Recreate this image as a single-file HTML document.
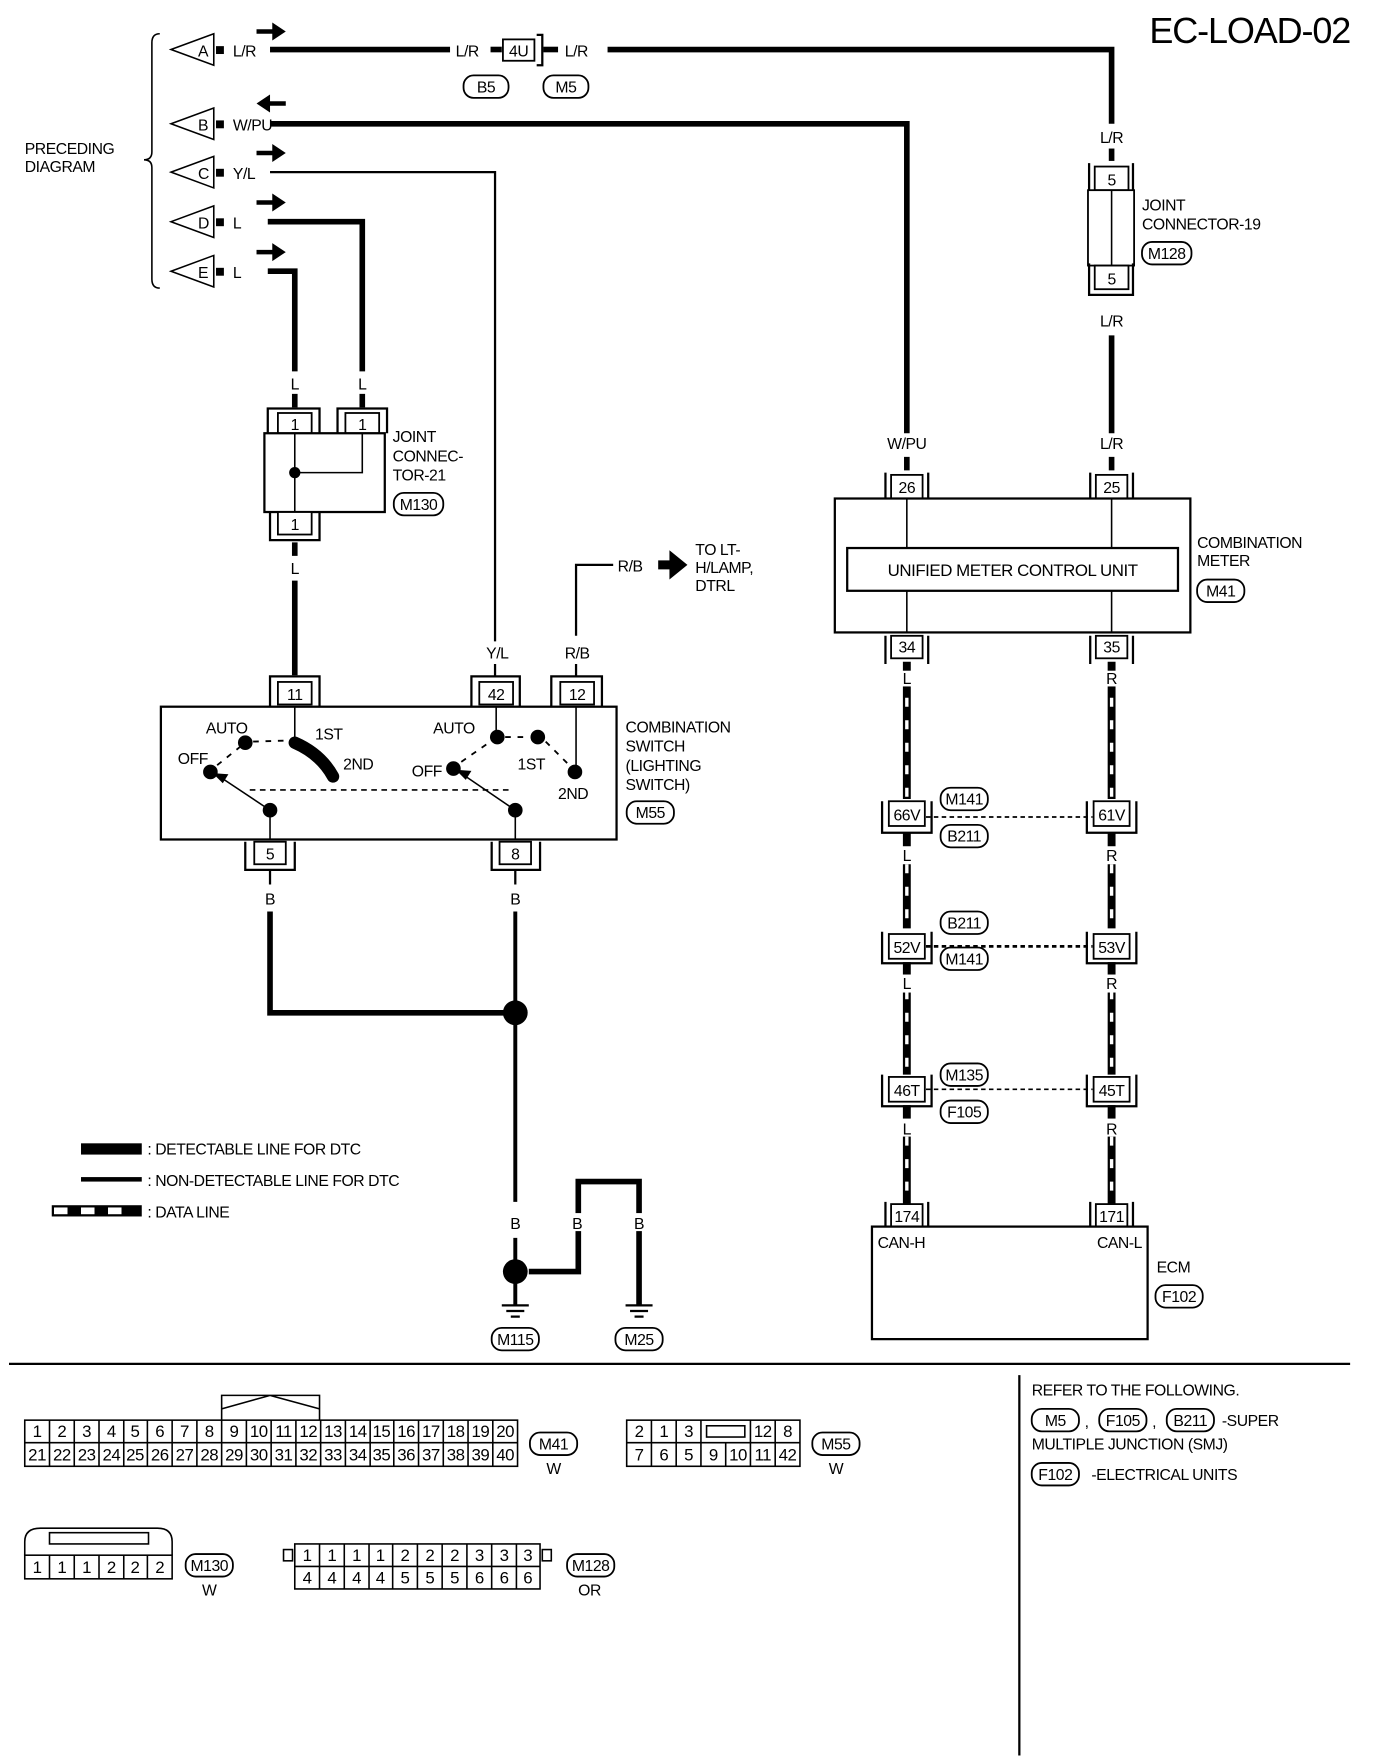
<!DOCTYPE html>
<html><head><meta charset="utf-8"><style>
html,body{margin:0;padding:0;background:#fff}
svg{display:block}
text{font-family:"Liberation Sans",sans-serif;font-size:15px;fill:#000}
.t{font-size:14px;letter-spacing:-0.4px}
.c{text-anchor:middle}
.thin{stroke:#000;stroke-width:2;fill:none}
.hair{stroke:#000;stroke-width:1.4;fill:none}
.thick{stroke:#000;stroke-width:5;fill:none}
.ov{fill:#fff;stroke:#000;stroke-width:1.6}
.bx{fill:#fff;stroke:#000;stroke-width:1.6}
.datab{stroke:#000;stroke-width:7;fill:none}
.dataw{stroke:#fff;stroke-width:3;fill:none;stroke-dasharray:8 12}
</style></head><body>
<svg width="1376" height="1760" viewBox="0 0 1223 1564" preserveAspectRatio="none" xmlns="http://www.w3.org/2000/svg">
<text x="1200" y="38" text-anchor="end" style="font-size:32px;letter-spacing:-1px">EC-LOAD-02</text>

<path class="hair" d="M142 30 Q135 30 135 38 L135 135 Q135 142 128 142 Q135 142 135 149 L135 248 Q135 256 142 256"/>
<text x="22" y="137" class="t">PRECEDING</text>
<text x="22" y="153" class="t">DIAGRAM</text>

<g class="hair">
<path d="M152 44 L190 30 L190 58 Z"/><path d="M152 110 L190 96 L190 124 Z"/>
<path d="M152 153 L190 139 L190 167 Z"/><path d="M152 197 L190 183 L190 211 Z"/>
<path d="M152 241 L190 227 L190 255 Z"/>
</g>
<text x="176" y="50" class="t">A</text><text x="176" y="116" class="t">B</text>
<text x="176" y="159" class="t">C</text><text x="176" y="203" class="t">D</text>
<text x="176" y="247" class="t">E</text>
<g fill="#000">
<rect x="192" y="41" width="7" height="7"/><rect x="192" y="107" width="7" height="7"/>
<rect x="192" y="150" width="7" height="7"/><rect x="192" y="194" width="7" height="7"/>
<rect x="192" y="238" width="7" height="7"/>
<path d="M228 26 h14 v-6 l12 8 l-12 8 v-6 h-14z"/>
<path d="M254 90 h-14 v-6 l-12 8 l12 8 v-6 h14z"/>
<path d="M228 134 h14 v-6 l12 8 l-12 8 v-6 h-14z"/>
<path d="M228 178 h14 v-6 l12 8 l-12 8 v-6 h-14z"/>
<path d="M228 222 h14 v-6 l12 8 l-12 8 v-6 h-14z"/>
</g>
<text x="207" y="50" class="t">L/R</text><text x="207" y="116" class="t">W/PU</text>
<text x="207" y="159" class="t">Y/L</text><text x="207" y="203" class="t">L</text>
<text x="207" y="247" class="t">L</text>

<path class="thick" d="M240 44 H400"/>
<text x="405" y="50" class="t">L/R</text>
<path class="thick" d="M436 44 H446"/>
<rect class="bx" x="447" y="35" width="28" height="19"/>
<text x="461" y="50" class="t c">4U</text>
<path class="thin" d="M477 31 H482 V58 H477"/>
<path class="thick" d="M483 44 H496"/>
<text x="502" y="50" class="t">L/R</text>
<path class="thick" d="M540 44 H988 V110"/>
<rect class="ov" x="412" y="67" width="40" height="20" rx="9"/><text x="432" y="82" class="t c">B5</text>
<rect class="ov" x="483" y="67" width="40" height="20" rx="9"/><text x="503" y="82" class="t c">M5</text>

<text x="988" y="127" class="t c">L/R</text>
<path class="thick" d="M988 132 V143"/>
<path class="thin" d="M968 145 V170 M1007 145 V170"/>
<rect class="bx" x="973" y="148" width="30" height="21"/><text x="988" y="165" class="t c">5</text>
<rect class="bx" x="967" y="169" width="41" height="67"/>
<path class="hair" d="M988 169 V236"/>
<rect class="bx" x="973" y="236" width="30" height="21"/><text x="988" y="253" class="t c">5</text>
<path class="thin" d="M968 234 V262 H1007 V234"/>
<text x="988" y="290" class="t c">L/R</text>
<path class="thick" d="M988 298 V385"/>
<text x="1015" y="187" class="t">JOINT</text>
<text x="1015" y="204" class="t">CONNECTOR-19</text>
<rect class="ov" x="1015" y="215" width="44" height="20" rx="9"/><text x="1037" y="230" class="t c">M128</text>

<path class="thick" d="M240 110 H806 V385"/>
<text x="806" y="399" class="t c">W/PU</text>
<text x="988" y="399" class="t c">L/R</text>
<path class="thick" d="M806 406 V418 M988 406 V418"/>

<path class="thin" d="M787 443 V420 M825 443 V420 M969 443 V420 M1007 443 V420"/>
<rect class="bx" x="792" y="422" width="28" height="21"/><text x="806" y="438" class="t c">26</text>
<rect class="bx" x="974" y="422" width="28" height="21"/><text x="988" y="438" class="t c">25</text>
<rect x="742" y="443" width="316" height="119" fill="#fff" stroke="#000" stroke-width="2"/>
<path class="hair" d="M806 443 V487 M988 443 V487 M806 525 V562 M988 525 V562"/>
<rect x="753" y="487" width="294" height="38" fill="#fff" stroke="#000" stroke-width="2"/>
<text x="900" y="512" class="c" style="letter-spacing:-0.4px">UNIFIED METER CONTROL UNIT</text>
<text x="1064" y="487" class="t">COMBINATION</text>
<text x="1064" y="503" class="t">METER</text>
<rect class="ov" x="1064" y="515" width="42" height="20" rx="9"/><text x="1085" y="530" class="t c">M41</text>
<path class="thin" d="M787 565 V590 M825 565 V590 M969 565 V590 M1007 565 V590"/>
<rect class="bx" x="792" y="565" width="28" height="20"/><text x="806" y="580" class="t c">34</text>
<rect class="bx" x="974" y="565" width="28" height="20"/><text x="988" y="580" class="t c">35</text>

<g>
<path class="datab" d="M806 588 V710 M988 588 V710 M806 740 V825 M988 740 V825 M806 855 V955 M988 855 V955 M806 982 V1070 M988 982 V1070"/>
<path class="dataw" d="M806 620 V710 M988 620 V710 M806 768 V825 M988 768 V825 M806 880 V955 M988 880 V955 M806 1010 V1060 M988 1010 V1060"/>
</g>
<g fill="#fff"><rect x="796" y="596" width="20" height="14"/><rect x="978" y="596" width="20" height="14"/>
<rect x="796" y="752" width="20" height="16"/><rect x="978" y="752" width="20" height="16"/>
<rect x="796" y="866" width="20" height="16"/><rect x="978" y="866" width="20" height="16"/>
<rect x="796" y="994" width="20" height="16"/><rect x="978" y="994" width="20" height="16"/></g>
<text x="806" y="608" class="t c">L</text><text x="988" y="608" class="t c">R</text>
<text x="806" y="765" class="t c">L</text><text x="988" y="765" class="t c">R</text>
<text x="806" y="879" class="t c">L</text><text x="988" y="879" class="t c">R</text>
<text x="806" y="1008" class="t c">L</text><text x="988" y="1008" class="t c">R</text>

<g>
<path class="thin" d="M784 712 V740 H828 V712 M966 712 V740 H1010 V712"/>
<rect class="bx" x="790" y="712" width="32" height="22"/><text x="806" y="729" class="t c">66V</text>
<rect class="bx" x="972" y="712" width="32" height="22"/><text x="988" y="729" class="t c">61V</text>
<path d="M823 726 H971" stroke="#000" stroke-width="1.6" stroke-dasharray="4 3"/>
<rect class="ov" x="836" y="700" width="42" height="20" rx="9"/><text x="857" y="715" class="t c">M141</text>
<rect class="ov" x="836" y="733" width="42" height="20" rx="9"/><text x="857" y="748" class="t c">B211</text>

<path class="thin" d="M784 828 V856 H828 V828 M966 828 V856 H1010 V828"/>
<rect class="bx" x="790" y="830" width="32" height="22"/><text x="806" y="847" class="t c">52V</text>
<rect class="bx" x="972" y="830" width="32" height="22"/><text x="988" y="847" class="t c">53V</text>
<path d="M823 841 H971" stroke="#000" stroke-width="2.4" stroke-dasharray="4 3"/>
<rect class="ov" x="836" y="810" width="42" height="20" rx="9"/><text x="857" y="825" class="t c">B211</text>
<rect class="ov" x="836" y="842" width="42" height="20" rx="9"/><text x="857" y="857" class="t c">M141</text>

<path class="thin" d="M784 955 V983 H828 V955 M966 955 V983 H1010 V955"/>
<rect class="bx" x="790" y="957" width="32" height="22"/><text x="806" y="974" class="t c">46T</text>
<rect class="bx" x="972" y="957" width="32" height="22"/><text x="988" y="974" class="t c">45T</text>
<path d="M823 968 H971" stroke="#000" stroke-width="1.4" stroke-dasharray="4 3"/>
<rect class="ov" x="836" y="945" width="42" height="20" rx="9"/><text x="857" y="960" class="t c">M135</text>
<rect class="ov" x="836" y="978" width="42" height="20" rx="9"/><text x="857" y="993" class="t c">F105</text>
</g>

<path class="thin" d="M787 1090 V1068 M825 1090 V1068 M969 1090 V1068 M1007 1090 V1068"/>
<rect class="bx" x="792" y="1070" width="28" height="20"/><text x="806" y="1086" class="t c">174</text>
<rect class="bx" x="974" y="1070" width="28" height="20"/><text x="988" y="1086" class="t c">171</text>
<rect x="775" y="1090" width="245" height="100" fill="#fff" stroke="#000" stroke-width="2"/>
<text x="780" y="1109" class="t">CAN-H</text>
<text x="1015" y="1109" class="t" text-anchor="end">CAN-L</text>
<text x="1028" y="1131" class="t">ECM</text>
<rect class="ov" x="1027" y="1142" width="42" height="20" rx="9"/><text x="1048" y="1157" class="t c">F102</text>

<path class="thin" d="M240 153 H440 V570"/>
<path class="thick" d="M238 197 H322 V330"/>
<path class="thick" d="M238 241 H262 V330"/>
<text x="262" y="346" class="t c">L</text><text x="322" y="346" class="t c">L</text>
<path class="thick" d="M262 350 V362 M322 350 V362"/>

<path class="thin" d="M238 385 V363 H284 V385 M300 385 V363 H344 V385"/>
<rect class="bx" x="247" y="367" width="30" height="18"/><text x="262" y="382" class="t c">1</text>
<rect class="bx" x="307" y="367" width="30" height="18"/><text x="322" y="382" class="t c">1</text>
<rect x="235" y="385" width="107" height="70" fill="#fff" stroke="#000" stroke-width="2"/>
<path class="hair" d="M262 385 V455 M262 420 H322 V385"/>
<circle cx="262" cy="420" r="5"/>
<rect class="bx" x="247" y="455" width="30" height="20"/><text x="262" y="471" class="t c">1</text>
<path class="thin" d="M240 455 V480 H284 V455"/>
<text x="262" y="510" class="t c">L</text>
<path class="thick" d="M262 482 V494 M262 516 V600"/>
<text x="349" y="393" class="t">JOINT</text>
<text x="349" y="410" class="t">CONNEC-</text>
<text x="349" y="427" class="t">TOR-21</text>
<rect class="ov" x="350" y="438" width="44" height="20" rx="9"/><text x="372" y="453" class="t c">M130</text>

<path class="thin" d="M512 565 V502 H545"/>
<text x="549" y="508" class="t">R/B</text>
<path d="M585 498 h10 v-9 l16 13 l-16 13 v-9 h-10z" fill="#000"/>
<text x="618" y="493" class="t">TO LT-</text>
<text x="618" y="509" class="t">H/LAMP,</text>
<text x="618" y="525" class="t">DTRL</text>
<text x="442" y="585" class="t c">Y/L</text><text x="513" y="585" class="t c">R/B</text>
<path class="thin" d="M440 590 V602 M512 590 V602"/>

<path class="thin" d="M240 628 V601 H284 V628 M419 628 V601 H462 V628 M490 628 V601 H535 V628"/>
<rect class="bx" x="247" y="606" width="30" height="20"/><text x="262" y="622" class="t c">11</text>
<rect class="bx" x="426" y="606" width="30" height="20"/><text x="441" y="622" class="t c">42</text>
<rect class="bx" x="498" y="606" width="30" height="20"/><text x="513" y="622" class="t c">12</text>
<rect x="143" y="628" width="405" height="118" fill="#fff" stroke="#000" stroke-width="2"/>
<path class="hair" d="M262 628 V658 M441 628 V653 M512 628 V686 M240 720 V746 M458 720 V746"/>
<path d="M262 660 Q285 670 296 690" stroke="#000" stroke-width="11" stroke-linecap="round" fill="none"/>
<g fill="#000">
<circle cx="187" cy="686" r="6.5"/><circle cx="218" cy="660" r="6.5"/><circle cx="240" cy="720" r="6.5"/>
<circle cx="403" cy="683" r="6.5"/><circle cx="442" cy="655" r="6.5"/><circle cx="478" cy="655" r="6.5"/>
<circle cx="511" cy="686" r="6.5"/><circle cx="458" cy="720" r="6.5"/>
<path d="M189 687 l14 1 l-5 8 z"/><path d="M405 684 l14 1 l-5 8 z"/>
</g>
<path class="hair" d="M240 720 L198 692 M458 720 L414 690"/>
<path d="M222 702 H452" stroke="#000" stroke-width="1.4" stroke-dasharray="5 4"/>
<path d="M193 680 L213 664 M225 659 L258 658 M410 677 L436 659 M449 655 L470 655 M485 659 L506 680" stroke="#000" stroke-width="1.6" stroke-dasharray="5 6" fill="none"/>
<text x="183" y="652" class="t">AUTO</text>
<text x="280" y="657" class="t">1ST</text>
<text x="158" y="679" class="t">OFF</text>
<text x="305" y="684" class="t">2ND</text>
<text x="385" y="652" class="t">AUTO</text>
<text x="366" y="690" class="t">OFF</text>
<text x="460" y="684" class="t">1ST</text>
<text x="496" y="710" class="t">2ND</text>
<text x="556" y="651" class="t">COMBINATION</text>
<text x="556" y="668" class="t">SWITCH</text>
<text x="556" y="685" class="t">(LIGHTING</text>
<text x="556" y="702" class="t"> SWITCH)</text>
<rect class="ov" x="557" y="712" width="42" height="20" rx="9"/><text x="578" y="727" class="t c">M55</text>
<path class="thin" d="M218 748 V773 H262 V748 M437 748 V773 H480 V748"/>
<rect class="bx" x="226" y="748" width="28" height="20"/><text x="240" y="764" class="t c">5</text>
<rect class="bx" x="444" y="748" width="28" height="20"/><text x="458" y="764" class="t c">8</text>
<path class="thin" d="M240 773 V786 M458 773 V786"/>
<text x="240" y="804" class="t c">B</text><text x="458" y="804" class="t c">B</text>

<path class="thick" d="M240 810 V900 H458"/>
<path stroke="#000" stroke-width="3.5" fill="none" d="M458 810 V1068"/>
<circle cx="458" cy="900" r="11"/>
<text x="458" y="1092" class="t c">B</text>
<path stroke="#000" stroke-width="3.5" d="M458 1100 V1160"/>
<circle cx="458" cy="1130" r="11"/>
<path class="thick" d="M470 1130 H514 V1050 H568 V1160"/>
<rect x="505" y="1078" width="18" height="16" fill="#fff"/><rect x="559" y="1078" width="18" height="16" fill="#fff"/>
<text x="513" y="1092" class="t c">B</text><text x="568" y="1092" class="t c">B</text>
<path class="thin" d="M446 1160 H470 M450 1165 H466 M454 1170 H462 M556 1160 H580 M560 1165 H576 M564 1170 H572"/>
<rect class="ov" x="437" y="1180" width="42" height="20" rx="9"/><text x="458" y="1195" class="t c">M115</text>
<rect class="ov" x="547" y="1180" width="42" height="20" rx="9"/><text x="568" y="1195" class="t c">M25</text>

<rect x="72" y="1016" width="54" height="10" fill="#000"/>
<text x="131" y="1026" class="t">: DETECTABLE LINE FOR DTC</text>
<rect x="72" y="1046" width="54" height="4" fill="#000"/>
<text x="131" y="1054" class="t">: NON-DETECTABLE LINE FOR DTC</text>
<rect x="46" y="1071" width="80" height="10" fill="#000"/>
<rect x="48" y="1073" width="12" height="6" fill="#fff"/><rect x="72" y="1073" width="12" height="6" fill="#fff"/><rect x="96" y="1073" width="12" height="6" fill="#fff"/>
<text x="131" y="1082" class="t">: DATA LINE</text>

<path class="thin" d="M8 1212 H1200 M906 1222 V1560"/>

<text x="917" y="1240" class="t">REFER TO THE FOLLOWING.</text>
<rect class="ov" x="917" y="1252" width="42" height="20" rx="9"/><text x="938" y="1267" class="t c">M5</text>
<text x="964" y="1268" class="t">,</text>
<rect class="ov" x="977" y="1252" width="42" height="20" rx="9"/><text x="998" y="1267" class="t c">F105</text>
<text x="1024" y="1268" class="t">,</text>
<rect class="ov" x="1037" y="1252" width="42" height="20" rx="9"/><text x="1058" y="1267" class="t c">B211</text>
<text x="1086" y="1267" class="t">-SUPER</text>
<text x="917" y="1288" class="t">MULTIPLE JUNCTION (SMJ)</text>
<rect class="ov" x="917" y="1300" width="42" height="20" rx="9"/><text x="938" y="1315" class="t c">F102</text>
<text x="970" y="1315" class="t">-ELECTRICAL UNITS</text>

<path class="hair" d="M197 1262 V1240 H284 V1262 M197 1252 L240 1240 L284 1252"/>
<g class="hair"><rect x="22" y="1262" width="438" height="41"/><path d="M22 1282 H460"/>
<path d="M44 1262V1303M66 1262V1303M88 1262V1303M110 1262V1303M131 1262V1303M153 1262V1303M175 1262V1303M197 1262V1303M219 1262V1303M241 1262V1303M263 1262V1303M285 1262V1303M307 1262V1303M329 1262V1303M350 1262V1303M372 1262V1303M394 1262V1303M416 1262V1303M438 1262V1303"/></g>
<g class="t c" style="font-size:13px">
<text x="33" y="1277">1</text><text x="55" y="1277">2</text><text x="77" y="1277">3</text><text x="99" y="1277">4</text><text x="120" y="1277">5</text><text x="142" y="1277">6</text><text x="164" y="1277">7</text><text x="186" y="1277">8</text><text x="208" y="1277">9</text><text x="230" y="1277">10</text><text x="252" y="1277">11</text><text x="274" y="1277">12</text><text x="296" y="1277">13</text><text x="318" y="1277">14</text><text x="339" y="1277">15</text><text x="361" y="1277">16</text><text x="383" y="1277">17</text><text x="405" y="1277">18</text><text x="427" y="1277">19</text><text x="449" y="1277">20</text>
<text x="33" y="1298">21</text><text x="55" y="1298">22</text><text x="77" y="1298">23</text><text x="99" y="1298">24</text><text x="120" y="1298">25</text><text x="142" y="1298">26</text><text x="164" y="1298">27</text><text x="186" y="1298">28</text><text x="208" y="1298">29</text><text x="230" y="1298">30</text><text x="252" y="1298">31</text><text x="274" y="1298">32</text><text x="296" y="1298">33</text><text x="318" y="1298">34</text><text x="339" y="1298">35</text><text x="361" y="1298">36</text><text x="383" y="1298">37</text><text x="405" y="1298">38</text><text x="427" y="1298">39</text><text x="449" y="1298">40</text>
</g>
<rect class="ov" x="471" y="1273" width="42" height="20" rx="9"/><text x="492" y="1288" class="t c">M41</text>
<text x="492" y="1310" class="t c">W</text>

<g class="hair"><rect x="557" y="1262" width="154" height="41"/><path d="M557 1282 H711"/>
<path d="M579 1262V1303M601 1262V1303M623 1262V1303M645 1282V1303M667 1262V1303M689 1262V1303"/>
<rect x="628" y="1267" width="34" height="10"/></g>
<g class="t c" style="font-size:13px">
<text x="568" y="1277">2</text><text x="590" y="1277">1</text><text x="612" y="1277">3</text><text x="678" y="1277">12</text><text x="700" y="1277">8</text>
<text x="568" y="1298">7</text><text x="590" y="1298">6</text><text x="612" y="1298">5</text><text x="634" y="1298">9</text><text x="656" y="1298">10</text><text x="678" y="1298">11</text><text x="700" y="1298">42</text>
</g>
<rect class="ov" x="722" y="1273" width="42" height="20" rx="9"/><text x="743" y="1288" class="t c">M55</text>
<text x="743" y="1310" class="t c">W</text>

<path class="hair" d="M22 1382 V1370 Q22 1358 36 1358 H140 Q153 1358 153 1370 V1382"/>
<rect class="hair" x="44" y="1362" width="88" height="10"/>
<g class="hair"><rect x="22" y="1382" width="131" height="21"/><path d="M44 1382V1403M66 1382V1403M88 1382V1403M110 1382V1403M131 1382V1403"/></g>
<g class="t c" style="font-size:13px"><text x="33" y="1398">1</text><text x="55" y="1398">1</text><text x="77" y="1398">1</text><text x="99" y="1398">2</text><text x="120" y="1398">2</text><text x="142" y="1398">2</text></g>
<rect class="ov" x="165" y="1381" width="42" height="20" rx="9"/><text x="186" y="1396" class="t c">M130</text>
<text x="186" y="1418" class="t c">W</text>

<g class="hair"><rect x="252" y="1377" width="8" height="10"/><rect x="482" y="1377" width="8" height="10"/>
<rect x="262" y="1372" width="218" height="40"/><path d="M262 1392 H480"/>
<path d="M284 1372V1412M306 1372V1412M328 1372V1412M349 1372V1412M371 1372V1412M393 1372V1412M415 1372V1412M437 1372V1412M459 1372V1412"/></g>
<g class="t c" style="font-size:13px">
<text x="273" y="1387">1</text><text x="295" y="1387">1</text><text x="317" y="1387">1</text><text x="338" y="1387">1</text><text x="360" y="1387">2</text><text x="382" y="1387">2</text><text x="404" y="1387">2</text><text x="426" y="1387">3</text><text x="448" y="1387">3</text><text x="469" y="1387">3</text>
<text x="273" y="1407">4</text><text x="295" y="1407">4</text><text x="317" y="1407">4</text><text x="338" y="1407">4</text><text x="360" y="1407">5</text><text x="382" y="1407">5</text><text x="404" y="1407">5</text><text x="426" y="1407">6</text><text x="448" y="1407">6</text><text x="469" y="1407">6</text>
</g>
<rect class="ov" x="504" y="1381" width="42" height="20" rx="9"/><text x="525" y="1396" class="t c">M128</text>
<text x="524" y="1418" class="t c">OR</text>
</svg>
</body></html>
